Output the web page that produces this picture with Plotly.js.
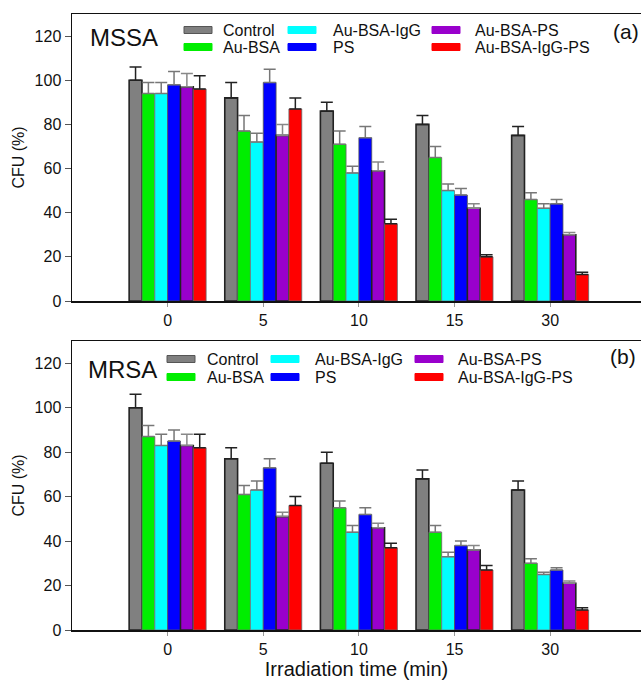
<!DOCTYPE html>
<html><head><meta charset="utf-8">
<script src="https://cdn.plot.ly/plotly-3.0.1.min.js"></script>
<style>html,body{margin:0;padding:0;background:#fff}#chart{width:641px;height:683px}</style>
</head><body><div id="chart"></div>
<script>
const categories = ['0', '5', '10', '15', '30'];
const seriesNames = ['Control', 'Au-BSA', 'Au-BSA-IgG', 'PS', 'Au-BSA-PS', 'Au-BSA-IgG-PS'];
const seriesColors = ['#808080', '#00EE00', '#00FFFF', '#0000FF', '#9900CC', '#FF0000'];

// MSSA (a)
const mssaControl = [100, 92, 86, 80, 75];
const mssaAuBSA   = [94, 77, 71, 65, 46];
const mssaIgG     = [94, 72, 58, 50, 42];
const mssaPS      = [98, 99, 74, 48, 44];
const mssaAuPS    = [97, 75, 59, 42, 30];
const mssaIgGPS   = [96, 87, 35, 20, 12];
const mssaControlErr = [6, 7, 4, 4, 4];
const mssaAuBSAErr   = [5, 7, 6, 5, 3];
const mssaIgGErr     = [5, 4, 3, 3, 2];
const mssaPSErr      = [6, 6, 5, 3, 2];
const mssaAuPSErr    = [6, 5, 4, 2, 1];
const mssaIgGPSErr   = [6, 5, 2, 1, 1];

// MRSA (b)
const mrsaControl = [100, 77, 75, 68, 63];
const mrsaAuBSA   = [87, 61, 55, 44, 30];
const mrsaIgG     = [83, 63, 44, 33, 25];
const mrsaPS      = [85, 73, 52, 38, 27];
const mrsaAuPS    = [83, 51, 46, 36, 21];
const mrsaIgGPS   = [82, 56, 37, 27, 9];
const mrsaControlErr = [6, 5, 5, 4, 4];
const mrsaAuBSAErr   = [5, 4, 3, 3, 2];
const mrsaIgGErr     = [5, 4, 3, 2, 1];
const mrsaPSErr      = [5, 4, 3, 2, 1];
const mrsaAuPSErr    = [5, 2, 2, 2, 1];
const mrsaIgGPSErr   = [6, 4, 2, 2, 1];

const yTicks = [0, 20, 40, 60, 80, 100, 120];

const mssaVals = [mssaControl, mssaAuBSA, mssaIgG, mssaPS, mssaAuPS, mssaIgGPS];
const mssaErrs = [mssaControlErr, mssaAuBSAErr, mssaIgGErr, mssaPSErr, mssaAuPSErr, mssaIgGPSErr];
const mrsaVals = [mrsaControl, mrsaAuBSA, mrsaIgG, mrsaPS, mrsaAuPS, mrsaIgGPS];
const mrsaErrs = [mrsaControlErr, mrsaAuBSAErr, mrsaIgGErr, mrsaPSErr, mrsaAuPSErr, mrsaIgGPSErr];

const lineColors = ['#222', '#666', '#777', '#555', '#222', '#666'];
const lineWidths = [1.6, 0.8, 0.8, 0.8, 1.6, 0.8];
const errColors = ['#222', '#777', '#777', '#777', '#888', '#222'];

const FONT = '"Liberation Sans", Arial, sans-serif';
const W = 641, H = 683, ML = 72, MR = 0, MT = 14, MB = 53;
const PW = W - ML - MR, PH = H - MT - MB;
const px = x => (x - ML) / PW;
const py = y => (H - MB - y) / PH;

const traces = [];
function addSet(vals, errs, xa, ya) {
  vals.forEach((v, i) => {
    traces.push({
      type: 'bar', x: categories, y: v, name: seriesNames[i], xaxis: xa, yaxis: ya,
      showlegend: false,
      marker: {color: seriesColors[i], line: {color: lineColors[i], width: lineWidths[i]}},
      error_y: {type: 'data', array: errs[i], symmetric: false, arrayminus: errs[i].map(() => 0),
                color: errColors[i], thickness: 1.5, width: 6}
    });
  });
}
addSet(mssaVals, mssaErrs, 'x', 'y');
addSet(mrsaVals, mrsaErrs, 'x2', 'y2');

const axisCommon = {
  showline: true, linecolor: '#111', linewidth: 1.5, showgrid: false, zeroline: false,
  ticks: 'outside', ticklen: 5, tickcolor: '#555', tickwidth: 1,
  tickfont: {family: FONT, size: 16, color: '#111'}
};
const xCommon = Object.assign({}, axisCommon, {type: 'category', range: [-1, 4.95], mirror: true, ticklen: 4, tickcolor: '#999'});
const yCommon = Object.assign({}, axisCommon, {range: [0, 130], tickvals: yTicks, ticktext: yTicks.map(String), ticklen: 6});

const shapes = [];
const annotations = [];
function addLegend(cols, rows, textX) {
  seriesNames.forEach((n, i) => {
    const c = Math.floor(i / 2), r = i % 2;
    const x0 = cols[c], y = rows[r];
    shapes.push({type: 'rect', xref: 'paper', yref: 'paper', x0: px(x0), x1: px(x0 + 28),
      y0: py(y + 3.5), y1: py(y - 3.5), fillcolor: seriesColors[i],
      line: {color: i === 0 ? '#555' : seriesColors[i], width: 1}});
    annotations.push({xref: 'paper', yref: 'paper', x: px(textX[c]), y: py(y), xanchor: 'left', yanchor: 'middle',
      text: n, showarrow: false, font: {family: FONT, size: 16, color: '#111'}});
  });
}
addLegend([184, 288, 432], [30, 47], [221, 331, 473]);
addLegend([167, 271, 415], [359, 377], [205, 313, 456]);

annotations.push({xref: 'paper', yref: 'paper', x: px(88), y: py(37), xanchor: 'left', yanchor: 'middle',
  text: 'MSSA', showarrow: false, font: {family: FONT, size: 24, color: '#111'}});
annotations.push({xref: 'paper', yref: 'paper', x: px(86), y: py(369), xanchor: 'left', yanchor: 'middle',
  text: 'MRSA', showarrow: false, font: {family: FONT, size: 24, color: '#111'}});
annotations.push({xref: 'paper', yref: 'paper', x: px(611), y: py(31), xanchor: 'left', yanchor: 'middle',
  text: '(a)', showarrow: false, font: {family: FONT, size: 21, color: '#111'}});
annotations.push({xref: 'paper', yref: 'paper', x: px(608), y: py(356), xanchor: 'left', yanchor: 'middle',
  text: '(b)', showarrow: false, font: {family: FONT, size: 21, color: '#111'}});

const layout = {
  width: W, height: H, margin: {l: ML, r: MR, t: MT, b: MB},
  paper_bgcolor: '#fff', plot_bgcolor: '#fff',
  barmode: 'group', bargap: 0.195, bargroupgap: 0,
  font: {family: FONT, color: '#111'},
  xaxis: Object.assign({}, xCommon, {anchor: 'y'}),
  yaxis: Object.assign({}, yCommon, {domain: [py(301), 1], anchor: 'x',
    title: {text: 'CFU (%)', font: {family: FONT, size: 16}, standoff: 6}}),
  xaxis2: Object.assign({}, xCommon, {anchor: 'y2',
    title: {text: 'Irradiation time (min)', font: {family: FONT, size: 20}, standoff: 2}}),
  yaxis2: Object.assign({}, yCommon, {domain: [0, py(341)], anchor: 'x2',
    title: {text: 'CFU (%)', font: {family: FONT, size: 16}, standoff: 6}}),
  shapes: shapes, annotations: annotations
};
Plotly.newPlot('chart', traces, layout, {displayModeBar: false, staticPlot: true});
</script></body></html>
